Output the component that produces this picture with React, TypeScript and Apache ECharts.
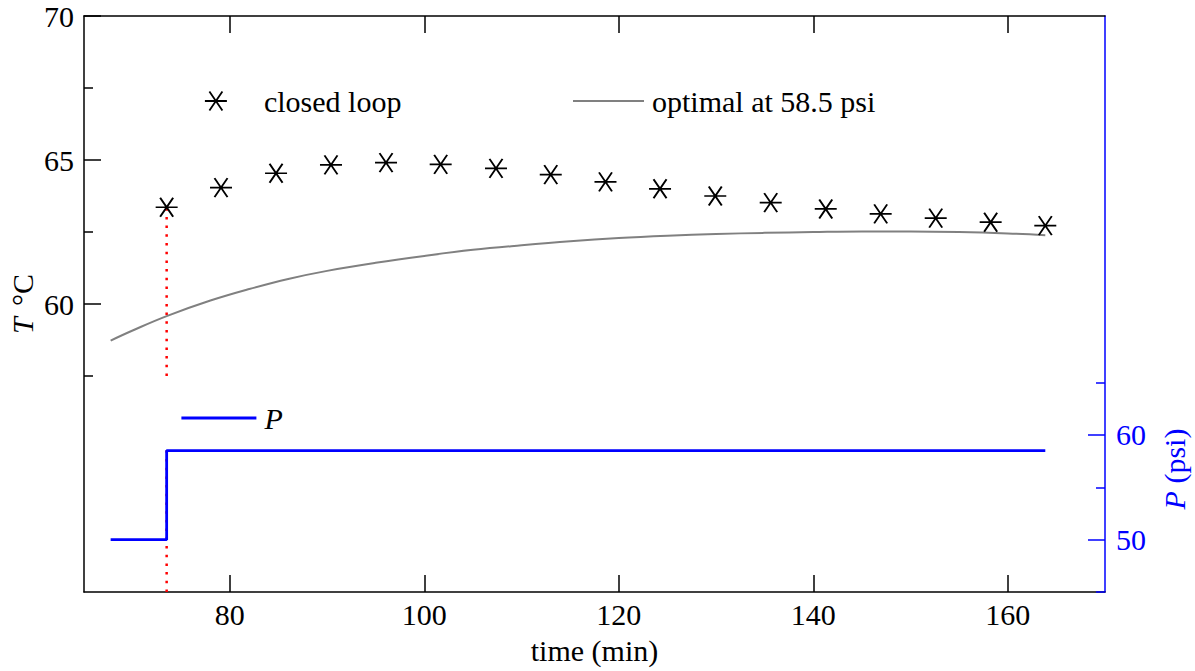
import React, { useEffect, useRef } from "react";
import * as echarts from "echarts";

// Closed-loop temperature samples (time in min, temperature in °C)
const closedLoopTime = [73.5, 79.09, 84.75, 90.4, 96.06, 101.68, 107.37, 113.0, 118.63, 124.24, 129.92, 135.62, 141.28, 146.93, 152.59, 158.24, 163.86];
const closedLoopTemp = [63.36, 64.04, 64.54, 64.83, 64.91, 64.85, 64.71, 64.49, 64.24, 64.0, 63.75, 63.52, 63.3, 63.13, 62.98, 62.84, 62.72];

// Optimal trajectory at constant 58.5 psi
const optimalTime = [67.74, 70, 73.5, 78, 82, 86, 90, 95, 100, 105, 110, 115, 120, 125, 130, 135, 140, 145, 150, 155, 160, 163.86];
const optimalTemp = [58.73, 59.08, 59.58, 60.12, 60.52, 60.87, 61.15, 61.43, 61.67, 61.88, 62.04, 62.18, 62.29, 62.37, 62.43, 62.47, 62.5, 62.52, 62.52, 62.5, 62.45, 62.39];

// Pressure set-point (step profile)
const pressureTime = [67.74, 73.5, 163.86];
const pressureValue = [50, 58.5, 58.5];

// Moment the loop is closed
const switchTime = 73.5;
const switchTempSpan = [57.5, 63.36];
const switchPressureSpan = [45, 58.5];

// Axis ticks
const timeTicks = [80, 100, 120, 140, 160];
const tempMajorTicks = [60, 65, 70];
const tempMinorTicks = [57.5, 62.5, 67.5];
const pressureMajorTicks = [50, 60];
const pressureMinorTicks = [45, 55, 65];

const FONT = "Liberation Serif, serif";
const FS = 30;
const BLUE = "#0000ff";
const STAR = "path://M0,9.5L22,9.5M4.5,0L17.5,19M17.5,0L4.5,19";
const HIDDEN_SYMBOL = { color: "rgba(0,0,0,0)", borderWidth: 0, opacity: 0 };

export default function App() {
  const ref = useRef<HTMLDivElement>(null);

  useEffect(() => {
    if (!ref.current) return;
    const chart = echarts.init(ref.current, undefined, { renderer: "svg" });

    const black = { color: "#000", width: 1.5 };
    const blue = { color: BLUE, width: 1.5 };

    const xBase = {
      type: "value" as const,
      min: 65,
      max: 170,
      axisLine: { show: true, lineStyle: black },
      axisTick: { show: true, inside: true, length: 17, customValues: timeTicks, lineStyle: black },
      splitLine: { show: false },
    };

    const option: any = {
      animation: false,
      backgroundColor: "#fff",
      textStyle: { fontFamily: FONT },
      grid: { left: 84, top: 16, right: 90, bottom: 79, containLabel: false },
      xAxis: [
        {
          ...xBase,
          position: "bottom",
          axisLabel: { customValues: timeTicks, fontFamily: FONT, fontSize: FS, color: "#000", margin: 7 },
        },
        { ...xBase, position: "top", axisLabel: { show: false } },
      ],
      yAxis: [
        {
          type: "value",
          position: "left",
          min: 50,
          max: 70,
          axisLine: { show: true, lineStyle: black },
          axisTick: { show: true, inside: true, length: 17, customValues: tempMajorTicks, lineStyle: black },
          axisLabel: { customValues: tempMajorTicks, fontFamily: FONT, fontSize: FS, color: "#000", margin: 10 },
          splitLine: { show: false },
        },
        {
          type: "value",
          position: "left",
          min: 50,
          max: 70,
          axisLine: { show: false },
          axisTick: { show: true, inside: true, length: 9, customValues: tempMinorTicks, lineStyle: black },
          axisLabel: { show: false },
          splitLine: { show: false },
        },
        {
          type: "value",
          position: "right",
          min: 45,
          max: 100,
          axisLine: { show: true, lineStyle: blue },
          axisTick: { show: true, inside: true, length: 17, customValues: pressureMajorTicks, lineStyle: blue },
          axisLabel: { customValues: pressureMajorTicks, fontFamily: FONT, fontSize: FS, color: BLUE, margin: 11 },
          splitLine: { show: false },
        },
        {
          type: "value",
          position: "right",
          min: 45,
          max: 100,
          axisLine: { show: false },
          axisTick: { show: true, inside: true, length: 9, customValues: pressureMinorTicks, lineStyle: blue },
          axisLabel: { show: false },
          splitLine: { show: false },
        },
      ],
      legend: [
        {
          data: [{ name: "closed loop", icon: STAR }],
          left: 204,
          top: 86,
          padding: 0,
          itemWidth: 86,
          itemHeight: 19,
          itemStyle: { color: "#000", borderColor: "#000", borderWidth: 1.8 },
          textStyle: { fontFamily: FONT, fontSize: FS, color: "#000" },
          selectedMode: false,
        },
        {
          data: ["optimal at 58.5 psi"],
          left: 572,
          top: 86,
          padding: 0,
          itemWidth: 71,
          itemHeight: 19,
          itemStyle: HIDDEN_SYMBOL,
          lineStyle: { color: "#808080", width: 2 },
          textStyle: { fontFamily: FONT, fontSize: FS, color: "#000", padding: [0, 0, 0, 3] },
          selectedMode: false,
        },
        {
          data: ["P"],
          left: 180,
          top: 403,
          padding: 0,
          itemWidth: 75,
          itemHeight: 19,
          itemStyle: HIDDEN_SYMBOL,
          lineStyle: { color: BLUE, width: 2.8 },
          textStyle: { fontFamily: FONT, fontSize: FS, color: "#000", fontStyle: "italic", padding: [0, 0, 0, 3] },
          selectedMode: false,
        },
      ],
      graphic: [
        {
          type: "text",
          x: 594.5,
          y: 650,
          style: {
            text: "time (min)",
            fontFamily: FONT,
            fontSize: FS,
            fill: "#000",
            align: "center",
            verticalAlign: "middle",
          },
        },
        {
          type: "text",
          x: 22,
          y: 304,
          rotation: Math.PI / 2,
          style: {
            text: "{i|T} °C",
            fontFamily: FONT,
            fontSize: FS,
            fill: "#000",
            align: "center",
            verticalAlign: "middle",
            rich: { i: { fontFamily: FONT, fontSize: FS, fontStyle: "italic", fill: "#000", padding: [0, 4, 0, 0] } },
          },
        },
        {
          type: "text",
          x: 1174,
          y: 469,
          rotation: Math.PI / 2,
          style: {
            text: "{i|P} (psi)",
            fontFamily: FONT,
            fontSize: FS,
            fill: BLUE,
            align: "center",
            verticalAlign: "middle",
            rich: { i: { fontFamily: FONT, fontSize: FS, fontStyle: "italic", fill: BLUE } },
          },
        },
      ],
      series: [
        {
          type: "line",
          name: "switch-temp",
          xAxisIndex: 0,
          yAxisIndex: 0,
          data: switchTempSpan.map((v) => [switchTime, v]),
          symbol: "none",
          silent: true,
          z: 1,
          lineStyle: { color: "#ff0000", width: 2.5, type: [2.5, 6.2] },
        },
        {
          type: "line",
          name: "switch-pressure",
          xAxisIndex: 0,
          yAxisIndex: 2,
          data: switchPressureSpan.map((v) => [switchTime, v]),
          symbol: "none",
          silent: true,
          z: 1,
          lineStyle: { color: "#ff0000", width: 2.5, type: [2.5, 6.2] },
        },
        {
          type: "line",
          name: "optimal at 58.5 psi",
          xAxisIndex: 0,
          yAxisIndex: 0,
          data: optimalTime.map((t, i) => [t, optimalTemp[i]]),
          symbol: "none",
          smooth: 0.4,
          z: 2,
          lineStyle: { color: "#808080", width: 2 },
          itemStyle: { color: "#808080" },
        },
        {
          type: "line",
          name: "P",
          xAxisIndex: 0,
          yAxisIndex: 2,
          data: pressureTime.map((t, i) => [t, pressureValue[i]]),
          step: "end",
          symbol: "none",
          z: 3,
          lineStyle: { color: BLUE, width: 2.8 },
          itemStyle: { color: BLUE },
        },
        {
          type: "scatter",
          name: "closed loop",
          xAxisIndex: 0,
          yAxisIndex: 0,
          data: closedLoopTime.map((t, i) => [t, closedLoopTemp[i]]),
          symbol: STAR,
          symbolSize: [22, 19],
          z: 4,
          itemStyle: { color: "#000", borderColor: "#000", borderWidth: 1.8, opacity: 1 },
        },
      ],
    };

    chart.setOption(option);
    return () => chart.dispose();
  }, []);

  return (
    <div
      ref={ref}
      style={{ position: "fixed", left: 0, top: 0, width: 1195, height: 671, background: "#fff" }}
    />
  );
}
